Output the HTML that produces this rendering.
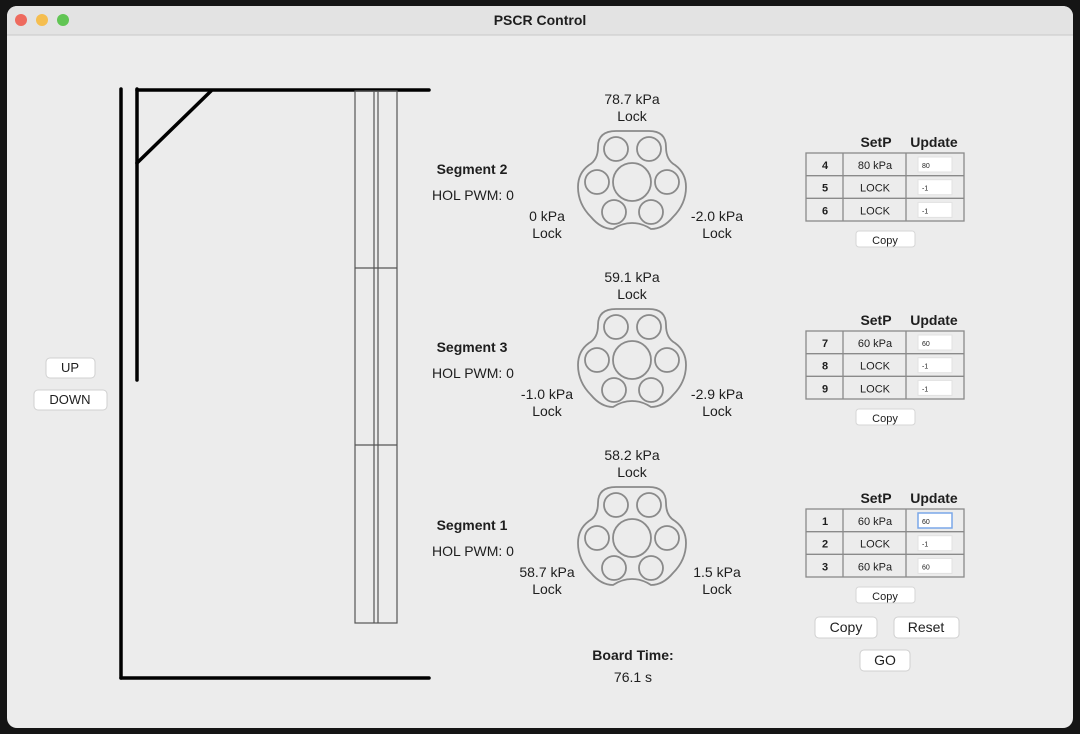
<!DOCTYPE html>
<html><head><meta charset="utf-8">
<style>
html,body{margin:0;padding:0;background:#111;width:1080px;height:734px;overflow:hidden}
svg{display:block}
text{font-family:"Liberation Sans",sans-serif;fill:#1e1e1e}
</style></head>
<body>
<svg id="s" width="1080" height="734" viewBox="0 0 1080 734">
<rect x="0" y="0" width="1080" height="734" fill="#151515"/>
<rect x="7" y="6" width="1066" height="722" rx="10" fill="#ececec"/>
<path d="M7,35 V16 a10,10 0 0 1 10,-10 H1063 a10,10 0 0 1 10,10 V35 Z" fill="#e3e3e3"/>
<line x1="7" y1="35" x2="1073" y2="35" stroke="#c8c8c8"/>
<circle cx="21" cy="20" r="6" fill="#ee6a5e"/>
<circle cx="42" cy="20" r="6" fill="#f5be4f"/>
<circle cx="63" cy="20" r="6" fill="#61c554"/>
<text x="540" y="25" text-anchor="middle" font-size="14" font-weight="bold">PSCR Control</text>
<g stroke="#000" stroke-width="3.5" stroke-linecap="round">
<line x1="121" y1="89" x2="121" y2="678"/>
<line x1="121" y1="678" x2="429" y2="678"/>
<line x1="137" y1="89" x2="137" y2="380"/>
<line x1="137" y1="90" x2="429" y2="90"/>
<line x1="137" y1="163" x2="211" y2="91"/>
</g>
<g stroke="#555" stroke-width="1.2" fill="none">
<rect x="355" y="91" width="42" height="532"/>
<line x1="374" y1="91" x2="374" y2="623"/>
<line x1="378" y1="91" x2="378" y2="623"/>
<line x1="355" y1="268" x2="397" y2="268"/>
<line x1="355" y1="445" x2="397" y2="445"/>
</g>
<g id="dyn"></g>
<g><rect x="46" y="358" width="49" height="20" rx="4" fill="#fff" stroke="#d0d0d0"/><text x="70" y="372" text-anchor="middle" font-size="13">UP</text></g>
<g><rect x="34" y="390" width="73" height="20" rx="4" fill="#fff" stroke="#d0d0d0"/><text x="70" y="404" text-anchor="middle" font-size="13">DOWN</text></g>
<g><rect x="815" y="617" width="62" height="21" rx="4" fill="#fff" stroke="#d0d0d0"/><text x="846" y="632" text-anchor="middle" font-size="14">Copy</text></g>
<g><rect x="894" y="617" width="65" height="21" rx="4" fill="#fff" stroke="#d0d0d0"/><text x="926" y="632" text-anchor="middle" font-size="14">Reset</text></g>
<g><rect x="860" y="650" width="50" height="21" rx="4" fill="#fff" stroke="#d0d0d0"/><text x="885" y="665" text-anchor="middle" font-size="14">GO</text></g>
<text x="633" y="660" text-anchor="middle" font-size="14" font-weight="bold">Board Time:</text>
<text x="633" y="682" text-anchor="middle" font-size="14">76.1 s</text>
</svg>
<script>
const segNames=["Segment 2","Segment 3","Segment 1"];
const topP=["78.7 kPa","59.1 kPa","58.2 kPa"];
const leftP=["0 kPa","-1.0 kPa","58.7 kPa"];
const rightP=["-2.0 kPa","-2.9 kPa","1.5 kPa"];
const ids=[[4,5,6],[7,8,9],[1,2,3]];
const setp=[["80 kPa","LOCK","LOCK"],["60 kPa","LOCK","LOCK"],["60 kPa","LOCK","60 kPa"]];
const upd=[["80","-1","-1"],["60","-1","-1"],["60","-1","60"]];
let h="";
const outline="M -16,-51 L 17,-51 Q 34,-51 34,-35 Q 34,-22 43,-17 Q 54,-9 54,5 Q 54,22 41,35 Q 31,47 19,47 Q 10,41 0,41 Q -10,41 -19,47 Q -31,47 -41,35 Q -54,22 -54,5 Q -54,-9 -43,-17 Q -34,-22 -34,-35 Q -34,-51 -16,-51 Z";
for(let i=0;i<3;i++){
 const dy=i*178, cx=632, cy=182+dy;
 h+=`<g>`;
 h+=`<text x="472" y="${174+dy}" text-anchor="middle" font-size="14" font-weight="bold">${segNames[i]}</text>`;
 h+=`<text x="473" y="${200+dy}" text-anchor="middle" font-size="14">HOL PWM: 0</text>`;
 h+=`<text x="632" y="${104+dy}" text-anchor="middle" font-size="14">${topP[i]}</text><text x="632" y="${121+dy}" text-anchor="middle" font-size="14">Lock</text>`;
 h+=`<text x="547" y="${221+dy}" text-anchor="middle" font-size="14">${leftP[i]}</text><text x="547" y="${238+dy}" text-anchor="middle" font-size="14">Lock</text>`;
 h+=`<text x="717" y="${221+dy}" text-anchor="middle" font-size="14">${rightP[i]}</text><text x="717" y="${238+dy}" text-anchor="middle" font-size="14">Lock</text>`;
 h+=`<g transform="translate(${cx},${cy})" fill="none" stroke="#8a8a8a" stroke-width="1.8"><path d="${outline}"/><circle r="19"/>`;
 [[-16,-33],[17,-33],[-35,0],[35,0],[-18,30],[19,30]].forEach(p=>{h+=`<circle cx="${p[0]}" cy="${p[1]}" r="12"/>`;});
 h+=`</g>`;
 const ty=153+dy;
 h+=`<text x="876" y="${147+dy}" text-anchor="middle" font-size="14" font-weight="bold">SetP</text><text x="934" y="${147+dy}" text-anchor="middle" font-size="14" font-weight="bold">Update</text>`;
 h+=`<g stroke="#8a8a8a" stroke-width="1.3" fill="none"><rect x="806" y="${ty}" width="158" height="68"/>`;
 h+=`<line x1="843" y1="${ty}" x2="843" y2="${ty+68}"/><line x1="906" y1="${ty}" x2="906" y2="${ty+68}"/>`;
 h+=`<line x1="806" y1="${ty+22.7}" x2="964" y2="${ty+22.7}"/><line x1="806" y1="${ty+45.3}" x2="964" y2="${ty+45.3}"/></g>`;
 for(let r=0;r<3;r++){
  const ry=ty+r*22.7;
  h+=`<text x="825" y="${ry+16}" text-anchor="middle" font-size="11" font-weight="bold">${ids[i][r]}</text>`;
  h+=`<text x="875" y="${ry+16}" text-anchor="middle" font-size="11">${setp[i][r]}</text>`;
  const focus=(i==2&&r==0);
  h+=`<g><rect x="918" y="${ry+4}" width="34" height="15" fill="#fff" stroke="${focus?'#7aa7e8':'#e2e2e2'}" stroke-width="${focus?1.5:1}"/><text x="922" y="${ry+15}" font-size="7">${upd[i][r]}</text></g>`;
 }
 h+=`<g><rect x="856" y="${231+dy}" width="59" height="16" rx="3" fill="#fff" stroke="#d6d6d6"/><text x="885" y="${244+dy}" text-anchor="middle" font-size="11">Copy</text></g>`;
 h+=`</g>`;
}
document.getElementById('dyn').innerHTML=h;
</script>
</body></html>
